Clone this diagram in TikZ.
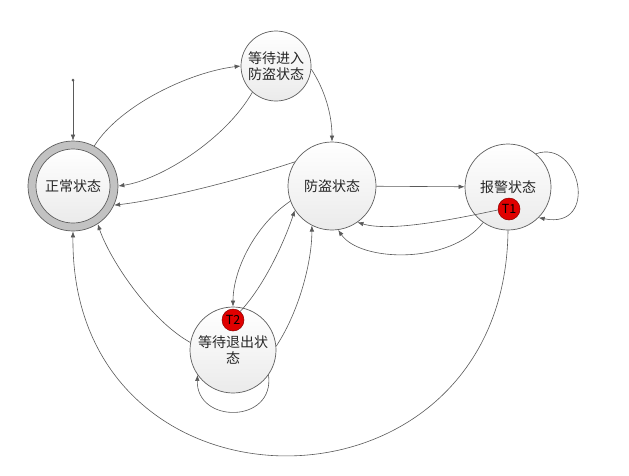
\documentclass[tikz,border=0pt]{standalone}
\usepackage{fontspec}
\setmainfont{Noto Sans CJK SC}
\usetikzlibrary{arrows.meta}
\definecolor{edgec}{HTML}{5A5A5A}
\definecolor{bordc}{HTML}{5E5E5E}
\definecolor{textc}{HTML}{262626}
\definecolor{ringc}{HTML}{C2C2C2}
\definecolor{tokc}{HTML}{E00000}
\definecolor{tokb}{HTML}{8A0000}
\begin{document}
\begin{tikzpicture}[x=1pt,y=-1pt,
  state/.style={circle, draw=bordc, line width=0.7pt, top color=white, bottom color=black!8,
    text=textc, font=\fontsize{14}{16}\selectfont, inner sep=0pt, align=center},
  ring/.style={circle, draw=bordc, line width=0.7pt, fill=ringc, minimum size=90pt, inner sep=0pt},
  tok/.style={circle, draw=tokb, line width=0.5pt, fill=tokc, minimum size=22pt, inner sep=0pt,
    text=black, font=\fontsize{12.5}{13}\selectfont},
  e/.style={draw=edgec, line width=0.6pt, -{Latex[length=6pt,width=4.5pt]}}]
\fill[white] (0,0) rectangle (629,475);
\useasboundingbox (0,0) rectangle (629,475);

\node[ring] (N) at (73,186) {};
\node[state, minimum size=74pt] (Ni) at (73,186) {正常状态};
\node[state, minimum size=70pt] (W) at (276,66) {等待进入\\防盗状态};
\node[state, minimum size=88pt] (F) at (332,186) {防盗状态};
\node[state, minimum size=86pt] (A) at (508,187) {报警状态};
\node[state, minimum size=86pt] (E) at (233,350) {等待退出状\\态};
\node[tok] (T1) at (509,209) {T1};
\node[tok] (T2) at (233,320) {T2};

\coordinate (S) at (73,80);
\fill[edgec] (S) circle (1.5pt);
\draw[e] (S) -- (N.90);

\draw[e] (N.62) .. controls (120,105) and (190,72) .. (W.180);
\draw[e] (W.228) .. controls (225,140) and (160,180) .. (N.0);
\draw[e] (W.355) .. controls (325,90) and (332,115) .. (F.90);
\draw[e] (F.147) .. controls (240,180) and (160,200) .. (N.-25);
\draw[e] (F) -- (A);
\draw[e] (T1.185) .. controls (450,220) and (390,232) .. (F.-55);
\draw[e] (A.235) .. controls (450,265) and (360,262) .. (F.-82);
\draw[e] (A.50) .. controls (580,138) and (600,230) .. (A.-45);
\draw[e] (A.270) .. controls (505,530) and (70,530) .. (N.270);
\draw[e] (E.170) .. controls (150,320) and (110,260) .. (N.-57);
\draw[e] (F.200) .. controls (255,225) and (233,270) .. (E.90);
\draw[e] (T2.50) .. controls (265,285) and (285,240) .. (F.213);
\draw[e] (E.5) .. controls (300,310) and (312,260) .. (F.243);
\draw[e] (E.-35) .. controls (275,424) and (196,424) .. (E.215);
\end{tikzpicture}
\end{document}
